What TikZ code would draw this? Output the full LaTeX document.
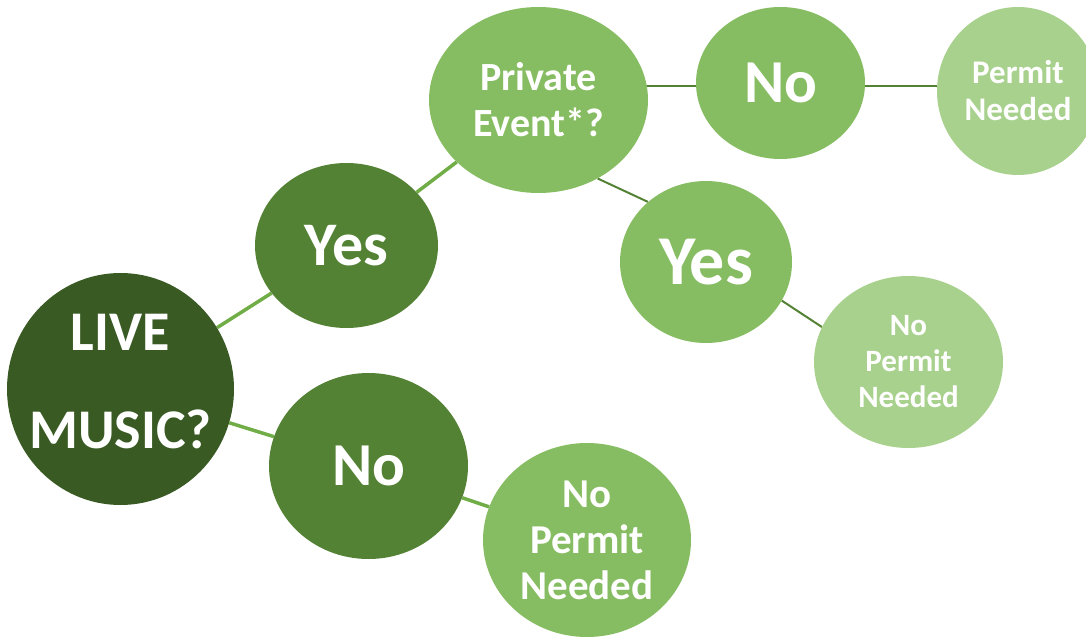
\documentclass[tikz,border=0pt]{standalone}
\usepackage{fontspec}
\setmainfont{Carlito}
\usetikzlibrary{shapes.geometric,backgrounds}
\definecolor{darkgreen}{HTML}{3A5A24}
\definecolor{midgreen}{HTML}{548235}
\definecolor{leafgreen}{HTML}{87BD62}
\definecolor{palegreen}{HTML}{A9D18E}
\definecolor{stemgreen}{HTML}{70AD47}

\tikzset{
  bubble/.style={ellipse, inner sep=0pt, fill=#1},
  answer/.style={text=white, align=center, inner sep=0pt},
  stem/.style={stemgreen, line width=3.5pt},
  twig/.style={midgreen, line width=2pt},
}

\begin{document}
\begin{tikzpicture}[x=1pt, y=-1pt]
        \useasboundingbox (0,0) rectangle (1086,639);
        % bubbles
        \node [bubble=darkgreen, minimum width=227pt, minimum height=232pt] (live) at (120.5,389) {};
        \node [bubble=midgreen, minimum width=183pt, minimum height=165pt] (yes1) at (346.5,245.5) {};
        \node [bubble=midgreen, minimum width=199pt, minimum height=186pt] (no1) at (368.5,466) {};
        \node [bubble=leafgreen, minimum width=219pt, minimum height=186pt] (pe) at (538.5,100) {};
        \node [bubble=leafgreen, minimum width=169pt, minimum height=152pt] (no2) at (780.5,83) {};
        \node [bubble=palegreen, minimum width=162pt, minimum height=168pt] (pn) at (1018,91) {};
        \node [bubble=leafgreen, minimum width=172pt, minimum height=162pt] (yes2) at (706,262) {};
        \node [bubble=palegreen, minimum width=189pt, minimum height=172pt] (npn2) at (908.5,362) {};
        \node [bubble=leafgreen, minimum width=208pt, minimum height=194pt] (npn1) at (587,540) {};
        % texts
        \node [answer, font=\bfseries\fontsize{56pt}{98pt}\selectfont] (live-t) at ([yshift=7pt]live) {LIVE\\MUSIC?};
        \node [answer, font=\bfseries\fontsize{62pt}{70pt}\selectfont] (yes1-t) at (yes1) {Yes};
        \node [answer, font=\bfseries\fontsize{61pt}{70pt}\selectfont] (no1-t) at (no1) {No};
        \node [answer, font=\bfseries\fontsize{40pt}{46pt}\selectfont] (pe-t) at (pe) {Private\\Event*?};
        \node [answer, font=\bfseries\fontsize{61pt}{70pt}\selectfont] (no2-t) at (no2) {No};
        \node [answer, font=\bfseries\fontsize{33pt}{37pt}\selectfont] (pn-t) at (pn) {Permit\\Needed};
        \node [answer, font=\bfseries\fontsize{70pt}{80pt}\selectfont] (yes2-t) at (yes2) {Yes};
        \node [answer, font=\bfseries\fontsize{31pt}{36pt}\selectfont] (npn2-t) at (npn2) {No\\Permit\\Needed};
        \node [answer, font=\bfseries\fontsize{41pt}{46pt}\selectfont] (npn1-t) at (npn1) {No\\Permit\\Needed};
        % branches
        \begin{scope}[on background layer]
            \draw [stem] (live) -- (yes1);
            \draw [stem] (live) -- (no1);
            \draw [stem] (yes1) -- (pe);
            \draw [stem] (no1) -- (npn1);
            \draw [twig] ([yshift=-3pt]no2.west) -- ([yshift=-3pt]no2.west -| pe.center);
            \draw [twig] ([yshift=-3pt]no2.east) -- ([yshift=-3pt]no2.east -| pn.center);
            \draw [twig] (pe.-53) -- (yes2.134);
            \draw [twig] (yes2.-27) -- (npn2.158);
        \end{scope}
\end{tikzpicture}
\end{document}
